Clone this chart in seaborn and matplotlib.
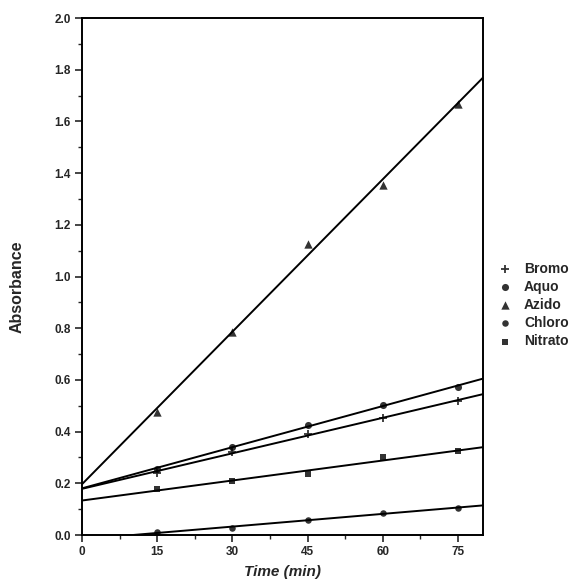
import matplotlib
matplotlib.use("Agg")
import matplotlib.pyplot as plt
from matplotlib.ticker import MultipleLocator, FormatStrFormatter
import pandas as pd
import seaborn as sns

time_min = [15, 30, 45, 60, 75]
bromo = [0.241, 0.322, 0.390, 0.451, 0.520]
aquo = [0.254, 0.342, 0.426, 0.504, 0.571]
azido = [0.477, 0.784, 1.126, 1.354, 1.667]
chloro = [0.010, 0.028, 0.058, 0.086, 0.104]
nitrato = [0.178, 0.209, 0.235, 0.300, 0.326]

series = {
    "Bromo": (bromo, "+", 36),
    "Aquo": (aquo, "o", 26),
    "Azido": (azido, "^", 36),
    "Chloro": (chloro, "o", 22),
    "Nitrato": (nitrato, "s", 24),
}

sns.set_style("ticks")
plt.rcParams["font.family"] = ["Liberation Sans", "DejaVu Sans"]

fig = plt.figure(figsize=(5.8, 5.83), dpi=100)
ax = fig.add_axes([0.1414, 0.0823, 0.6916, 0.8868])
ax.set_xlim(0, 80)
ax.set_ylim(0, 2.0)

for name, (vals, mk, sz) in series.items():
    df = pd.DataFrame({"t": time_min, "a": vals})
    sns.regplot(
        data=df, x="t", y="a", ax=ax, ci=None, truncate=False,
        marker=mk, color="black", label=name,
        scatter_kws={"s": sz, "linewidths": 1.3 if mk == "+" else 0, "zorder": 3},
        line_kws={"lw": 1.4},
    )

ax.set_xlim(0, 80)
ax.set_ylim(0, 2.0)
ax.xaxis.set_major_locator(MultipleLocator(15))
ax.xaxis.set_minor_locator(MultipleLocator(7.5))
ax.yaxis.set_major_locator(MultipleLocator(0.2))
ax.yaxis.set_minor_locator(MultipleLocator(0.1))
ax.yaxis.set_major_formatter(FormatStrFormatter("%.1f"))
ax.tick_params(which="major", length=5, width=1.2, labelsize=8.5, pad=3)
ax.tick_params(which="minor", length=3, width=1.0)
for lab in ax.get_xticklabels() + ax.get_yticklabels():
    lab.set_fontweight("bold")
for sp in ax.spines.values():
    sp.set_linewidth(1.4)
    sp.set_color("black")

ax.set_xlabel("Time (min)", fontsize=11, fontweight="bold", style="italic")
ax.set_ylabel("Absorbance", fontsize=11.5, fontweight="bold")
ax.xaxis.set_label_coords(0.5, -0.058)
ax.yaxis.set_label_coords(-0.142, 0.48)

leg = ax.legend(
    loc="center left", bbox_to_anchor=(1.005, 0.445), frameon=False,
    fontsize=10, handletextpad=0.9, labelspacing=0.3, handlelength=1.0,
)
for t in leg.get_texts():
    t.set_fontweight("bold")

fig.savefig("out.png", dpi=100)
